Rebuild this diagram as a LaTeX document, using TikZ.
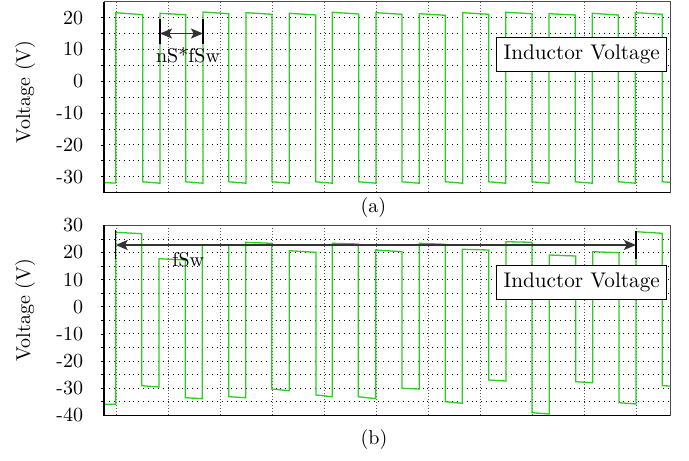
\documentclass[tikz,border=0pt]{standalone}
\usetikzlibrary{arrows.meta}
\definecolor{wave}{RGB}{45,205,35}
\begin{document}
\begin{tikzpicture}[x=0.5pt,y=-0.5pt,
  hgrid/.style={dotted, line width=0.45pt},
  vgrid/.style={densely dotted, black!65, line width=0.5pt},
  wavestyle/.style={wave, line width=0.65pt, line join=miter},
  dimarrow/.style={{Stealth[length=6pt,width=5pt,inset=1.3pt]}-{Stealth[length=6pt,width=5pt,inset=1.3pt]}, line width=0.8pt, black!80},
  bar/.style={line width=0.6pt},
  legendbox/.style={draw, fill=white, line width=0.5pt, minimum width=85pt, minimum height=16.8pt, inner sep=0pt, font=\fontsize{10.6}{12}\selectfont},
  ticklabel/.style={anchor=east, inner sep=0pt},
  ylab/.style={rotate=90, inner sep=0pt},
  caption/.style={anchor=base, inner sep=0pt},
]
\fill[white] (0,0) rectangle (689,460);
\useasboundingbox (0,0) rectangle (689,460);

% ---------- Top plot (a) ----------
\foreach \v in {20,15,...,-30}
  \draw[hgrid] (104,{17.7+(20-\v)*3.18}) -- (670,{17.7+(20-\v)*3.18});
\foreach \x in {116,168,...,636}
  \draw[vgrid] (\x,1.8) -- (\x,192.6);
\foreach \v in {20,15,...,-30}
  \draw[line width=0.4pt] (100.5,{17.7+(20-\v)*3.18}) -- (104,{17.7+(20-\v)*3.18});
\foreach \v in {20,10,...,-30}
  \node[ticklabel] (ta\v) at (83.5,{17.7+(20-\v)*3.18}) {\v};
\node[ylab] (ylabA) at (25,91.7) {Voltage (V)};

\draw[wavestyle] (104,182.7) -- (115.7,183)
  -- (115.7,12.7) -- (142.7,14.7) -- (142.7,181.8) -- (160,183.2)
  -- (160,13.3) -- (185.7,14.7) -- (185.7,181.8) -- (203,183.2)
  -- (203,12) -- (228.7,13.7) -- (228.7,181.8) -- (246,183.2)
  -- (246,12.7) -- (272,14.3) -- (272,181.8) -- (289.3,183.2)
  -- (289.3,13.3) -- (315.7,15) -- (315.7,181.8) -- (332.3,183.2)
  -- (332.3,12.3) -- (358.7,14) -- (358.7,181.8) -- (376,183.2)
  -- (376,12.7) -- (402,14.3) -- (402,181.8) -- (419.3,183.2)
  -- (419.3,13.7) -- (445.3,15.3) -- (445.3,181.8) -- (462.7,183.2)
  -- (462.7,12.7) -- (488.7,14.3) -- (488.7,181.8) -- (505.7,183.2)
  -- (505.7,12.3) -- (532,13.7) -- (532,181.8) -- (549,183.2)
  -- (549,13.7) -- (575.3,15) -- (575.3,181.8) -- (592.3,183.2)
  -- (592.3,13.3) -- (618.3,15) -- (618.3,181.8) -- (635.3,183.2)
  -- (635.3,12.7) -- (662.3,14.3) -- (662.3,181.8) -- (670,182.3);

\draw[black!70, line width=0.5pt] (104,1.8) rectangle (670,192.6);
\draw[black, line width=0.6pt] (104,1.8) -- (104,192.6) -- (670,192.6);

\coordinate (aLt) at (160,19);  \coordinate (aLb) at (160,44);
\coordinate (aRt) at (203,19);  \coordinate (aRb) at (203,44);
\coordinate (aLm) at (160,33.5); \coordinate (aRm) at (203,33.5);
\draw[bar] (aLt) -- (aLb);
\draw[bar] (aRt) -- (aRb);
\draw[dimarrow] (aLm) -- (aRm);
\node[caption] (lblA) at (188,62.5) {nS*fSw};

\node[legendbox] (legA) at (581.7,54.5) {Inductor Voltage};
\node[caption] (capA) at (373.3,212.5) {(a)};

% ---------- Bottom plot (b) ----------
\foreach \v in {25,20,...,-35}
  \draw[hgrid] (104,{225.4+(30-\v)*2.713}) -- (670,{225.4+(30-\v)*2.713});
\foreach \x in {116,168,...,636}
  \draw[vgrid] (\x,225.4) -- (\x,415.3);
\foreach \v in {25,20,...,-35}
  \draw[line width=0.4pt] (100.5,{225.4+(30-\v)*2.713}) -- (104,{225.4+(30-\v)*2.713});
\foreach \v in {30,20,...,-40}
  \node[ticklabel] (tb\v) at (83.5,{225.4+(30-\v)*2.713}) {\v};
\node[ylab] (ylabB) at (25,310) {Voltage (V)};

\draw[wavestyle] (104,404.3) -- (115.7,404.3)
  -- (115.7,232.3) -- (141.7,233.7) -- (141.7,385.7) -- (159,387)
  -- (159,258.7) -- (185.3,260) -- (185.3,397.7) -- (202.3,398.7)
  -- (202.3,245) -- (228.7,245.3) -- (228.7,396.7) -- (245.7,397.7)
  -- (245.7,242.3) -- (271.7,243.3) -- (271.7,389) -- (289.3,390.7)
  -- (289.3,250.7) -- (316,252.3) -- (316,395) -- (332.3,396.7)
  -- (332.3,243.3) -- (358.3,244) -- (358.3,396.7) -- (375.7,398.7)
  -- (375.7,250) -- (402,251.7) -- (402,388.3) -- (419.3,389)
  -- (419.3,243.3) -- (445.3,244.3) -- (445.3,401.7) -- (462.3,403.3)
  -- (462.3,249.3) -- (488.7,250) -- (488.7,380) -- (506,381)
  -- (506,241.7) -- (532,242.3) -- (532,412.7) -- (549.3,414)
  -- (549.3,255) -- (575.7,256) -- (575.7,381.7) -- (592.7,382.7)
  -- (592.7,251.7) -- (619,252.7) -- (619,402.7) -- (636,404)
  -- (636,231.7) -- (662.3,233.3) -- (662.3,385.7) -- (670,386);

\draw[black!70, line width=0.5pt] (104,225.4) rectangle (670,415.3);
\draw[black, line width=0.6pt] (104,225.4) -- (104,415.3) -- (670,415.3);

\coordinate (bLt) at (115.7,230);  \coordinate (bLb) at (115.7,259.3);
\coordinate (bRt) at (636,230.5);  \coordinate (bRb) at (636,259.3);
\coordinate (bLm) at (115.7,245); \coordinate (bRm) at (636,245);
\draw[bar] (bLt) -- (bLb);
\draw[bar] (bRt) -- (bRb);
\draw[dimarrow] (bLm) -- (bRm);
\node[caption] (lblB) at (188.3,266.5) {fSw};

\node[legendbox] (legB) at (581.7,282.2) {Inductor Voltage};
\node[caption] (capB) at (374,444) {(b)};
\end{tikzpicture}
\end{document}
